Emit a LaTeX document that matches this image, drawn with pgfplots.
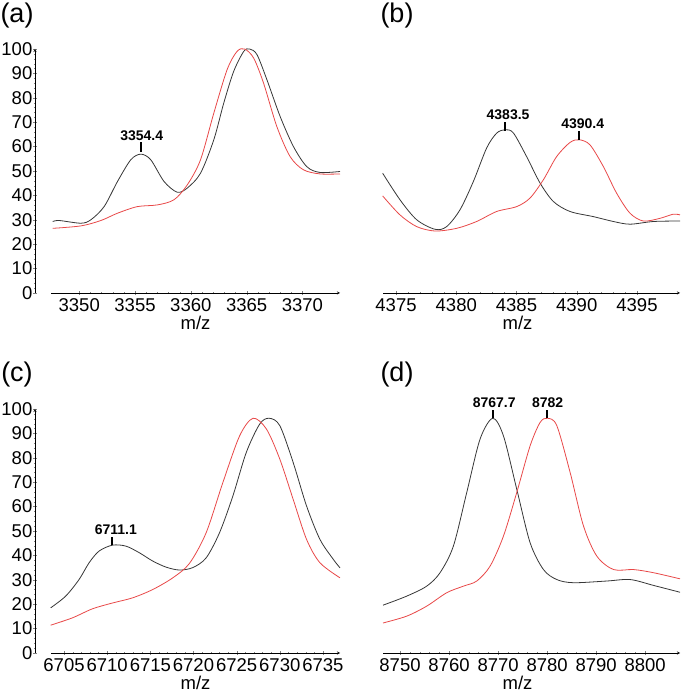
\documentclass[border=0pt]{standalone}
\usepackage{fontspec}
\setmainfont{Liberation Sans}
\usepackage{pgfplots}
\pgfplotsset{compat=1.18}
\definecolor{cblack}{RGB}{55,55,55}
\definecolor{cred}{RGB}{232,72,72}
\pgfplotsset{
  common/.style={
    scale only axis,
    clip=false,
    axis line style={-},
    every outer x axis line/.append style={-},
    every outer y axis line/.append style={-},
    tick align=outside,
    major tick length=4pt,
    minor tick length=2.5pt,
    /pgf/number format/assume math mode=true,
    /pgf/number format/1000 sep={},
    ticklabel style={font=\fontsize{18.5}{18.5}\selectfont},
    ymin=0, ymax=100,
  },
  spec/.style={
    common,
    axis x line=bottom,
    axis y line=none, ytick=\empty,
    minor x tick num=4,
    xlabel={m/z},
    xlabel style={font=\fontsize{18.5}{18.5}\selectfont, inner sep=1pt},
    every axis plot/.append style={line width=0.8pt, smooth, tension=0.5},
  },
  yonly/.style={
    common,
    width=1pt,
    xmin=0, xmax=1,
    axis x line=none, xtick=\empty,
    axis y line=left,
    ytick={0,10,...,100},
    minor y tick num=4,
    yticklabel style={inner sep=0.5pt},
  },
}
\newcommand{\pk}{\fontsize{14}{14}\selectfont\bfseries}
\begin{document}
\begin{tikzpicture}
\useasboundingbox (0pt,0pt) rectangle (680pt,693pt);
% y axes for (a) and (c)
\begin{axis}[yonly, at={(35pt,400pt)}, anchor=south west, height=244pt]
\addplot[draw=none] coordinates {(0,0)};
\end{axis}
\begin{axis}[yonly, at={(35pt,40pt)}, anchor=south west, height=244pt]
\addplot[draw=none] coordinates {(0,0)};
\end{axis}
% (a)
\begin{axis}[spec, at={(51pt,400pt)}, anchor=south west, width=289pt, height=244pt,
  xmin=3347.47, xmax=3373.37, xtick={3350,3355,...,3370}]
\addplot[cblack] coordinates {
(3347.62,29.3)(3348.22,29.7)(3350.15,28.6)(3351.04,30.0)(3352.23,35.4)(3353.43,45.7)
(3354.62,54.6)(3355.52,56.9)(3356.41,54.6)(3357.60,45.7)(3358.78,41.3)(3359.68,43.0)
(3360.87,49.1)(3362.06,62.8)(3362.95,77.8)(3363.84,90.8)(3364.74,99.0)(3365.27,100)
(3365.93,97.7)(3366.82,87.4)(3368.01,72.3)(3369.20,60.0)(3370.39,51.8)(3371.58,49.4)(3373.37,49.8)};
\addplot[cred] coordinates {
(3347.62,26.5)(3350.15,27.5)(3351.94,29.7)(3353.43,32.7)(3355.21,35.4)(3357.00,36.1)
(3358.49,38.2)(3359.68,44.3)(3360.87,54.6)(3362.06,73.7)(3363.25,91.5)(3364.14,99.0)
(3364.82,100)(3365.63,96.3)(3366.52,86.0)(3367.71,68.2)(3368.90,55.9)(3370.09,50.5)
(3371.58,48.8)(3373.37,48.8)};
\draw[line width=2pt] (axis cs:3355.55,57.8) -- (axis cs:3355.55,61.8);
\node[font=\pk, anchor=south, inner sep=1pt] at (axis cs:3355.6,62) {3354.4};
\end{axis}
% (b)
\begin{axis}[spec, at={(383pt,400pt)}, anchor=south west, width=297pt, height=244pt,
  xmin=4373.92, xmax=4398.57, xtick={4375,4380,...,4395},
  xlabel style={xshift=-14pt}]
\addplot[cblack] coordinates {
(4373.89,49.1)(4375.33,38.2)(4376.72,30.0)(4378.24,26.1)(4379.20,27.2)(4380.31,34.1)
(4381.42,45.7)(4382.52,59.4)(4383.35,65.5)(4384.05,66.9)(4384.74,65.6)(4385.84,55.9)
(4386.95,45.1)(4388.06,37.5)(4389.44,33.4)(4391.38,31.3)(4393.04,29.3)(4394.42,28.2)
(4396.36,29.3)(4398.57,29.5)};
\addplot[cred] coordinates {
(4373.89,39.8)(4375.33,32.0)(4376.72,27.2)(4378.24,25.4)(4380.03,26.5)(4381.69,29.3)
(4383.35,33.4)(4385.01,35.4)(4386.12,38.9)(4387.23,46.4)(4388.33,55.9)(4389.44,61.7)
(4390.21,62.8)(4391.10,60.7)(4392.21,51.8)(4393.31,40.9)(4394.42,32.7)(4395.53,29.5)
(4396.91,30.6)(4398.01,32.3)(4398.57,32.0)};
\draw[line width=2pt] (axis cs:4384.05,66.4) -- (axis cs:4384.05,70.2);
\node[font=\pk, anchor=south, inner sep=1pt] at (axis cs:4384.3,70.6) {4383.5};
\draw[line width=2pt] (axis cs:4390.21,62.5) -- (axis cs:4390.21,66.3);
\node[font=\pk, anchor=south, inner sep=1pt] at (axis cs:4390.5,66.7) {4390.4};
\end{axis}
% (c)
\begin{axis}[spec, at={(51pt,40pt)}, anchor=south west, width=289pt, height=244pt,
  xmin=6703.49, xmax=6736.98, xtick={6705,6710,...,6735}]
\addplot[cblack] coordinates {
(6703.45,18.5)(6705.19,23.3)(6706.74,30.1)(6707.91,37.0)(6709.07,41.8)(6710.62,44.2)
(6712.17,43.8)(6713.72,41.1)(6715.27,37.7)(6716.82,35.2)(6718.37,34.0)(6719.92,35.0)
(6721.47,39.0)(6723.02,49.3)(6724.57,64.4)(6726.12,82.2)(6727.67,93.8)(6728.76,96.2)
(6730.00,93.2)(6731.55,78.1)(6733.10,60.3)(6734.65,46.6)(6736.20,38.4)(6736.98,34.9)};
\addplot[cred] coordinates {
(6703.45,11.4)(6705.97,14.4)(6708.29,18.1)(6710.62,20.5)(6712.94,22.6)(6715.27,26.0)
(6717.60,30.8)(6719.53,36.7)(6721.47,49.3)(6723.41,69.9)(6725.35,89.0)(6726.90,96.2)
(6728.45,91.8)(6730.00,79.5)(6731.55,63.0)(6733.10,46.6)(6734.65,37.0)(6736.98,30.8)};
\draw[line width=2pt] (axis cs:6710.6,44.2) -- (axis cs:6710.6,47.6);
\node[font=\pk, anchor=south, inner sep=1pt] at (axis cs:6711.0,48.2) {6711.1};
\end{axis}
% (d)
\begin{axis}[spec, at={(383pt,40pt)}, anchor=south west, width=297pt, height=244pt,
  xmin=8746.53, xmax=8807.1, xtick={8750,8760,...,8800},
  xlabel style={xshift=-14pt}]
\addplot[cblack] coordinates {
(8746.53,19.6)(8751.36,23.3)(8755.44,27.4)(8758.16,32.9)(8760.88,43.8)(8763.61,65.8)
(8766.33,87.7)(8768.91,96.2)(8771.09,89.0)(8773.81,67.1)(8776.53,45.2)(8779.25,34.2)
(8781.97,30.1)(8785.37,28.8)(8792.18,29.5)(8796.94,30.1)(8801.70,27.7)(8807.1,24.9)};
\addplot[cred] coordinates {
(8746.53,12.3)(8751.36,15.1)(8755.44,19.2)(8759.52,24.7)(8762.93,27.4)(8765.65,29.5)
(8768.37,35.6)(8771.09,47.9)(8773.81,65.8)(8776.53,84.9)(8778.57,94.5)(8780.07,96.2)
(8781.97,93.2)(8784.69,74.0)(8787.41,52.1)(8790.14,39.7)(8793.54,34.2)(8797.62,34.2)
(8801.70,32.9)(8807.1,30.4)};
\draw[line width=2pt] (axis cs:8768.9,96.2) -- (axis cs:8768.9,99.6);
\node[font=\pk, anchor=south, inner sep=1pt] at (axis cs:8769.2,100.2) {8767.7};
\draw[line width=2pt] (axis cs:8780.07,96.2) -- (axis cs:8780.07,99.6);
\node[font=\pk, anchor=south, inner sep=1pt] at (axis cs:8780.1,100.2) {8782};
\end{axis}
\node[font=\fontsize{27}{27}\selectfont] at (17pt,677pt) {(a)};
\node[font=\fontsize{27}{27}\selectfont] at (397pt,677pt) {(b)};
\node[font=\fontsize{27}{27}\selectfont] at (17pt,318pt) {(c)};
\node[font=\fontsize{27}{27}\selectfont] at (397pt,318pt) {(d)};
\end{tikzpicture}
\end{document}
